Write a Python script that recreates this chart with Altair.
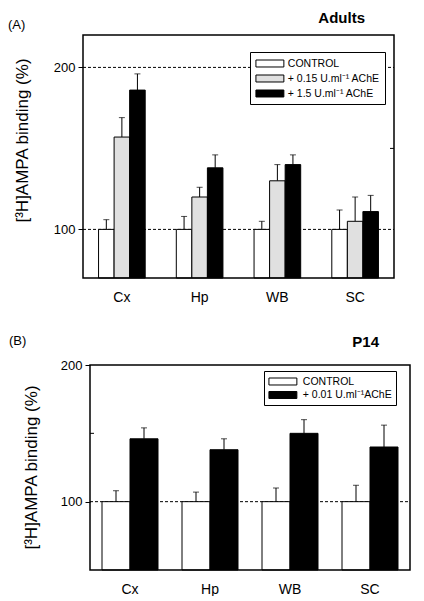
import altair as alt
import pandas as pd

FONT = "Liberation Sans"

regions = ["Cx", "Hp", "WB", "SC"]

# Panel A (Adults)
adult_groups = ["CONTROL", "+ 0.15 U.ml⁻¹ AChE", "+ 1.5 U.ml⁻¹ AChE"]
adult_control = [100, 100, 100, 100]
adult_control_err = [6, 8, 5, 12]
adult_low = [157, 120, 130, 105]
adult_low_err = [12, 6, 10, 15]
adult_high = [186, 138, 140, 111]
adult_high_err = [10, 8, 6, 10]
adult_colors = ["white", "#e0e0e0", "black"]

# Panel B (P14)
p14_groups = ["CONTROL", "+ 0.01 U.ml⁻¹AChE"]
p14_control = [100, 100, 100, 100]
p14_control_err = [8, 7, 10, 12]
p14_ache = [146, 138, 150, 140]
p14_ache_err = [8, 8, 10, 16]
p14_colors = ["white", "black"]

y_title = "[³H]AMPA binding (%)"


def build_df(groups, values, errs):
    rows = []
    for g, vals, es in zip(groups, values, errs):
        for r, v, e in zip(regions, vals, es):
            rows.append({"region": r, "group": g, "value": v, "top": v + e})
    return pd.DataFrame(rows)


def panel(df, groups, colors, domain, w, h, s, refs, minor_x, letter,
          letter_xy, label, label_xy, legend_xy, legend_pad, legend_rowpad,
          label_off, title_xy, pad_inner):
    # s: horizontal shift of the plot frame inside this panel
    yscale = alt.Scale(domain=domain, nice=False, zero=False)
    yaxis = alt.Axis(values=[100, 200], titleX=title_xy[0],
                     titleY=title_xy[1], offset=-s)
    xscale = alt.Scale(paddingInner=pad_inner, paddingOuter=pad_inner / 2,
                       range=[s, s + w])
    xenc = alt.X("region:N", sort=regions, title=None, scale=xscale)
    xoff = alt.XOffset("group:N", sort=groups)

    ref = alt.Chart(pd.DataFrame({"ref": refs})).mark_rule(
        color="black", strokeWidth=1, strokeDash=[3, 2]
    ).encode(y=alt.Y("ref:Q", scale=yscale, title=y_title, axis=yaxis),
             x=alt.value(s), x2=alt.value(s + w))

    bars = alt.Chart(df).mark_bar(stroke="black", strokeWidth=1).encode(
        x=xenc,
        xOffset=xoff,
        y=alt.Y("value:Q", scale=yscale, title=y_title, axis=yaxis),
        y2=alt.datum(domain[0]),
        color=alt.Color("group:N",
                        scale=alt.Scale(domain=groups, range=colors),
                        legend=alt.Legend(
                            title=None, orient="none",
                            legendX=legend_xy[0] + s, legendY=legend_xy[1],
                            direction="vertical",
                            symbolType="M-2.5,-0.625H2.5V0.625H-2.5Z",
                            symbolSize=125,
                            symbolStrokeColor="black", symbolStrokeWidth=1,
                            symbolOffset=8.4, labelOffset=label_off,
                            labelFont=FONT, labelFontSize=10.5,
                            labelColor="black", strokeColor="black",
                            fillColor="white", padding=legend_pad,
                            rowPadding=legend_rowpad)),
    )

    err = alt.Chart(df).mark_rule(color="black", strokeWidth=1).encode(
        x=xenc, xOffset=xoff,
        y=alt.Y("value:Q", scale=yscale, title=y_title, axis=yaxis),
        y2="top:Q")
    caps = alt.Chart(df).mark_tick(color="black", thickness=1, size=6,
                                   orient="horizontal").encode(
        x=xenc, xOffset=xoff,
        y=alt.Y("top:Q", scale=yscale, title=y_title, axis=yaxis))

    minor = alt.Chart(pd.DataFrame({"m": [150]})).mark_rule(
        color="black", strokeWidth=1
    ).encode(y=alt.Y("m:Q", scale=yscale, title=y_title, axis=yaxis),
             x=alt.value(minor_x[0] + s), x2=alt.value(minor_x[1] + s))

    frame = alt.Chart(pd.DataFrame({"f": [0]})).mark_rect(
        fillOpacity=0, stroke="black", strokeWidth=1.5
    ).encode(x=alt.value(s), x2=alt.value(s + w),
             y=alt.value(0), y2=alt.value(h))

    t1 = alt.Chart(pd.DataFrame({"t": [letter]})).mark_text(
        align="left", baseline="top", fontSize=13, font=FONT, color="black"
    ).encode(text="t:N", x=alt.value(letter_xy[0]), y=alt.value(letter_xy[1]))
    t2 = alt.Chart(pd.DataFrame({"t": [label]})).mark_text(
        align="right", baseline="top", fontSize=15, font=FONT,
        fontWeight="bold", color="black"
    ).encode(text="t:N", x=alt.value(label_xy[0] + s),
             y=alt.value(label_xy[1]))

    return alt.layer(ref, err, caps, bars, minor, frame, t1, t2).properties(
        width=w + s, height=h)


df_a = build_df(adult_groups, [adult_control, adult_low, adult_high],
                [adult_control_err, adult_low_err, adult_high_err])
df_b = build_df(p14_groups, [p14_control, p14_ache],
                [p14_control_err, p14_ache_err])

top = panel(df_a, adult_groups, adult_colors, [70, 220], 311, 243, 0,
            [100, 200], (307, 311), "(A)", (-75, -16), "Adults", (282, -24),
            (167, 17), 5, 3, 11.4, (-52, 105), 0.4)
bottom = panel(df_b, p14_groups, p14_colors, [50, 200], 320, 205, 7,
               [100], (0, 4), "(B)", (-74, -30), "P14", (289, -30),
               (174, 6), 4, 1.5, 13.4, (-50, 102), 0.3)

chart = alt.vconcat(top, bottom, spacing=31).resolve_scale(
    color="independent", x="independent", y="independent",
    xOffset="independent"
).configure_view(
    strokeWidth=0
).configure_axisY(
    tickSize=5, tickColor="black", tickWidth=1, domain=False, grid=False,
    labelPadding=3, labelFontSize=13, labelFont=FONT, labelColor="black",
    titleFont=FONT, titleFontSize=17, titleFontWeight="normal",
    titleColor="black"
).configure_axisX(
    labelAngle=0, ticks=False, domain=False, labelPadding=12,
    labelFontSize=14, labelFont=FONT, labelColor="black"
).properties(
    padding={"left": 0, "top": 3, "right": 0, "bottom": 0})

chart.save("out.html", embed_options={"renderer": "svg", "actions": False})
